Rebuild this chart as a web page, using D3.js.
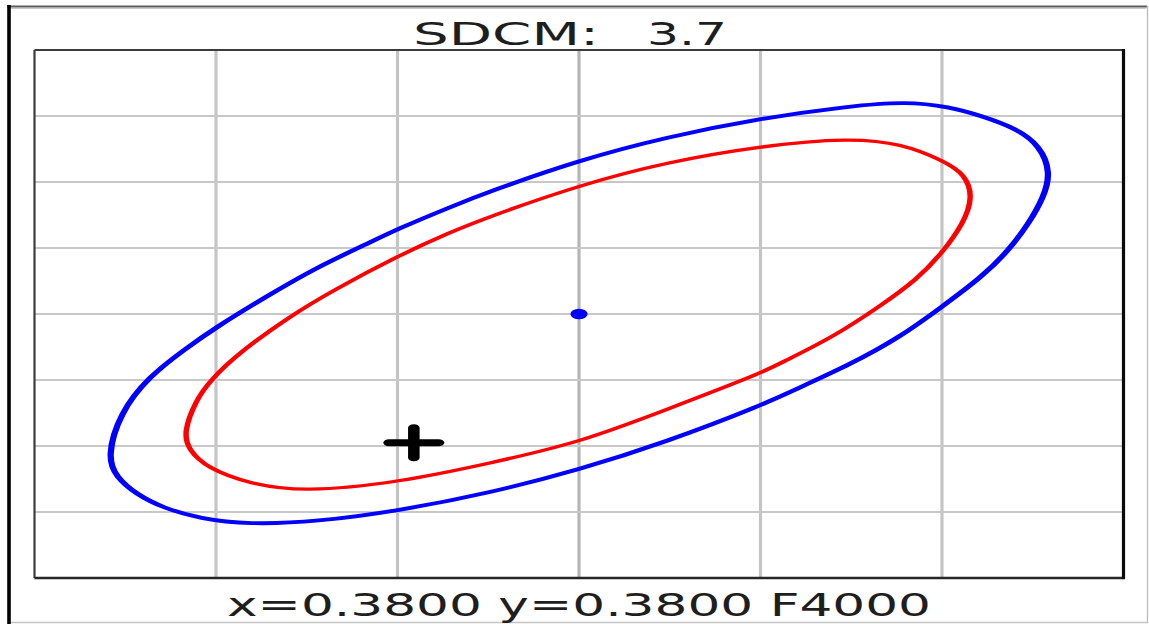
<!DOCTYPE html>
<html>
<head>
<meta charset="utf-8">
<script src="https://cdn.jsdelivr.net/npm/d3@7"></script>
<style>
  html, body { margin: 0; padding: 0; background: #fff; }
  svg { display: block; }
</style>
</head>
<body>
<svg id="chart" width="1149" height="624"></svg>
<script>
// Chromaticity window shown in the plot (CIE 1931 x, y)
const xDomain = [0.377, 0.383];
const yDomain = [0.376, 0.384];
const xTicks = [0.378, 0.379, 0.380, 0.381, 0.382];
const yTicks = [0.377, 0.378, 0.379, 0.380, 0.381, 0.382, 0.383];

// Target chromaticity (ellipse centre) and the measured point
const target = [0.3800, 0.3800];
const measured = [0.37909, 0.37805];

// Outer ellipse (blue)
const outerEllipse = [
  [0.37740, 0.37783], [0.37747, 0.37850], [0.37763, 0.37905], [0.37782, 0.37945],
  [0.37800, 0.37980], [0.37828, 0.38027], [0.37855, 0.38070], [0.37883, 0.38106],
  [0.37901, 0.38130], [0.37929, 0.38162], [0.37951, 0.38186], [0.38000, 0.38233],
  [0.38048, 0.38268], [0.38101, 0.38297], [0.38149, 0.38315], [0.38180, 0.38322],
  [0.38204, 0.38314], [0.38222, 0.38300], [0.38241, 0.38281], [0.38254, 0.38255],
  [0.38260, 0.38214], [0.38256, 0.38177], [0.38248, 0.38138], [0.38237, 0.38097],
  [0.38222, 0.38056], [0.38200, 0.38011], [0.38177, 0.37965], [0.38149, 0.37923],
  [0.38121, 0.37888], [0.38101, 0.37862], [0.38048, 0.37806], [0.38000, 0.37764],
  [0.37951, 0.37729], [0.37901, 0.37702], [0.37855, 0.37685], [0.37818, 0.37681],
  [0.37791, 0.37690], [0.37771, 0.37706], [0.37756, 0.37727], [0.37745, 0.37753]
];

// Inner ellipse (red)
const innerEllipse = [
  [0.37782, 0.37820], [0.37789, 0.37870], [0.37797, 0.37900], [0.37813, 0.37942],
  [0.37841, 0.37997], [0.37864, 0.38035], [0.37901, 0.38089], [0.37929, 0.38124],
  [0.37951, 0.38148], [0.38000, 0.38195], [0.38048, 0.38230], [0.38101, 0.38255],
  [0.38149, 0.38267], [0.38178, 0.38258], [0.38201, 0.38232], [0.38213, 0.38211],
  [0.38217, 0.38177], [0.38212, 0.38138], [0.38200, 0.38092], [0.38186, 0.38052],
  [0.38167, 0.38014], [0.38140, 0.37965], [0.38112, 0.37927], [0.38101, 0.37911],
  [0.38048, 0.37855], [0.38000, 0.37805], [0.37951, 0.37774], [0.37901, 0.37745],
  [0.37848, 0.37730], [0.37818, 0.37743], [0.37795, 0.37767], [0.37785, 0.37794]
];

const titleLabel = "SDCM:";
const titleValue = "3.7";
const footerText = "x=0.3800 y=0.3800 F4000";

// The picture is stretched sideways; draw the plot in a narrower space and scale it out
const SX = 1.65;
const plot = { left: 34.5, top: 50, right: 1123.5, bottom: 578 };
const nativeW = (plot.right - plot.left) / SX;

const svg = d3.select("#chart");

const x = d3.scaleLinear().domain(xDomain).range([0, nativeW]);
const y = d3.scaleLinear().domain(yDomain).range([plot.bottom, plot.top]);

svg.append("rect")
    .attr("width", 1149)
    .attr("height", 624)
    .attr("fill", "#fff");

// Outer window frame
const frame = svg.append("g").attr("fill", "none");
frame.append("line").attr("x1", 7).attr("x2", 1147).attr("y1", 6.5).attr("y2", 6.5)
    .attr("stroke", "#5a5a5a").attr("stroke-width", 2.2);
frame.append("line").attr("x1", 11).attr("x2", 1146).attr("y1", 8.5).attr("y2", 8.5)
    .attr("stroke", "#c8c8c8").attr("stroke-width", 1);
frame.append("line").attr("x1", 9).attr("x2", 9).attr("y1", 5).attr("y2", 624)
    .attr("stroke", "#000").attr("stroke-width", 3.6);
frame.append("line").attr("x1", 1147.5).attr("x2", 1147.5).attr("y1", 6).attr("y2", 623)
    .attr("stroke", "#bdbdbd").attr("stroke-width", 1.4);
frame.append("line").attr("x1", 11).attr("x2", 1148).attr("y1", 622.5).attr("y2", 622.5)
    .attr("stroke", "#c4c4c4").attr("stroke-width", 1.4);

const g = svg.append("g")
    .attr("transform", `translate(${plot.left},0) scale(${SX},1)`);

// Grid
g.append("g")
  .selectAll("line")
  .data(xTicks)
  .join("line")
    .attr("x1", d => x(d))
    .attr("x2", d => x(d))
    .attr("y1", plot.top)
    .attr("y2", plot.bottom)
    .attr("stroke", d => d === target[0] ? "#b4b4b4" : "#c4c4c4")
    .attr("stroke-width", 1.9);

g.append("g")
  .selectAll("line")
  .data(yTicks)
  .join("line")
    .attr("x1", 0)
    .attr("x2", nativeW)
    .attr("y1", d => y(d))
    .attr("y2", d => y(d))
    .attr("stroke", "#c8c8c8")
    .attr("stroke-width", 2);

// Ellipses
const line = d3.line()
    .x(d => x(d[0]))
    .y(d => y(d[1]))
    .curve(d3.curveBasisClosed);

g.append("path")
    .attr("d", line(outerEllipse))
    .attr("fill", "none")
    .attr("stroke", "#0000ff")
    .attr("stroke-width", 3.8)
    .attr("stroke-linejoin", "round");

g.append("path")
    .attr("d", line(innerEllipse))
    .attr("fill", "none")
    .attr("stroke", "#ff0000")
    .attr("stroke-width", 3.3)
    .attr("stroke-linejoin", "round");

// Centre dot
g.append("circle")
    .attr("cx", x(target[0]))
    .attr("cy", y(target[1]))
    .attr("r", 5.2)
    .attr("fill", "#0000ff");

// Measured point marker
const arm = 15;
const cross = g.append("g")
    .attr("stroke", "#000")
    .attr("stroke-width", 7)
    .attr("stroke-linecap", "round");
cross.append("line")
    .attr("x1", x(measured[0]) - arm).attr("x2", x(measured[0]) + arm)
    .attr("y1", y(measured[1])).attr("y2", y(measured[1]));
cross.append("line")
    .attr("x1", x(measured[0])).attr("x2", x(measured[0]))
    .attr("y1", y(measured[1]) - arm).attr("y2", y(measured[1]) + arm);

// Plot border: lighter edges top/left, heavy edges right/bottom
const border = svg.append("g").attr("fill", "none");
border.append("line").attr("x1", plot.left).attr("x2", plot.right).attr("y1", plot.top).attr("y2", plot.top)
    .attr("stroke", "#3c3c3c").attr("stroke-width", 2);
border.append("line").attr("x1", plot.left).attr("x2", plot.left).attr("y1", plot.top).attr("y2", plot.bottom)
    .attr("stroke", "#3c3c3c").attr("stroke-width", 2.2);
border.append("line").attr("x1", plot.left).attr("x2", plot.right + 1.5).attr("y1", plot.bottom).attr("y2", plot.bottom)
    .attr("stroke", "#262626").attr("stroke-width", 2.4);
border.append("line").attr("x1", plot.right).attr("x2", plot.right).attr("y1", plot.top - 1).attr("y2", plot.bottom + 1)
    .attr("stroke", "#0a0a0a").attr("stroke-width", 3.2);

// Texts
const font = "DejaVu Sans, Verdana, sans-serif";

svg.append("text")
    .attr("x", 413)
    .attr("y", 45)
    .attr("font-family", font)
    .attr("font-size", 32)
    .attr("fill", "#1e1e1e")
    .attr("textLength", 186)
    .attr("lengthAdjust", "spacingAndGlyphs")
    .text(titleLabel);

svg.append("text")
    .attr("x", 647)
    .attr("y", 45)
    .attr("font-family", font)
    .attr("font-size", 32)
    .attr("fill", "#1e1e1e")
    .attr("textLength", 80)
    .attr("lengthAdjust", "spacingAndGlyphs")
    .text(titleValue);

svg.append("text")
    .attr("x", 227)
    .attr("y", 616)
    .attr("font-family", font)
    .attr("font-size", 32)
    .attr("fill", "#1e1e1e")
    .attr("textLength", 704)
    .attr("lengthAdjust", "spacingAndGlyphs")
    .text(footerText);
</script>
</body>
</html>
